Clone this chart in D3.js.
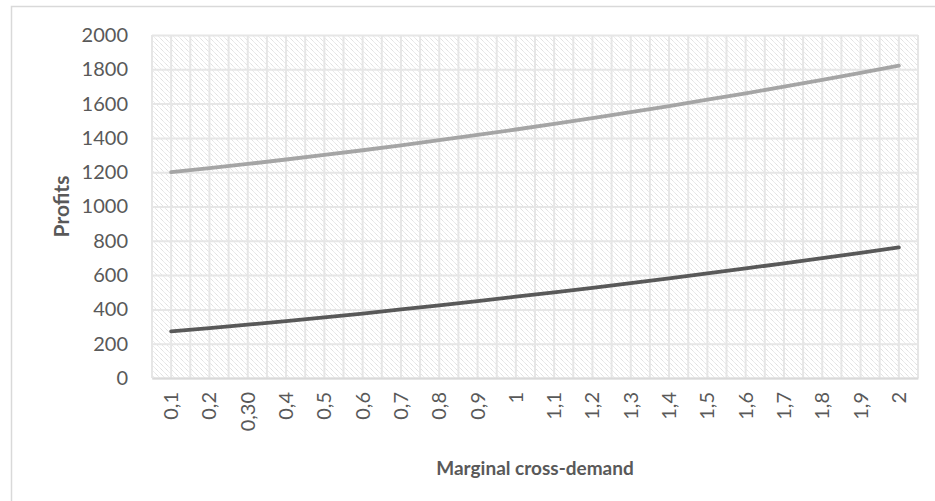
<!DOCTYPE html>
<html>
<head>
<meta charset="utf-8">
<script src="https://cdn.jsdelivr.net/npm/d3@7"></script>
<style>
  body { margin: 0; background: #fff; }
  text { font-family: Lato, "Open Sans", sans-serif; fill: #595959; }
</style>
</head>
<body>
<script>
// categories as printed on the x axis
var categories = ["0,1", "0,2", "0,30", "0,4", "0,5", "0,6", "0,7", "0,8", "0,9", "1",
                  "1,1", "1,2", "1,3", "1,4", "1,5", "1,6", "1,7", "1,8", "1,9", "2"];
// upper (light) series
var upperValues = [1200, 1224, 1248, 1274, 1301, 1328, 1357, 1387, 1417, 1449,
                   1482, 1515, 1550, 1586, 1623, 1660, 1699, 1739, 1779, 1821];
// lower (dark) series
var lowerValues = [272, 291, 311, 332, 354, 376, 400, 424, 448, 474,
                   499, 526, 553, 581, 610, 639, 669, 699, 730, 762];
var yTicks = [0, 200, 400, 600, 800, 1000, 1200, 1400, 1600, 1800, 2000];

var W = 935, H = 501;
var margin = {top: 35, right: 17, bottom: 123, left: 152},
    width = W - margin.left - margin.right,
    height = H - margin.top - margin.bottom;

var svg = d3.select("body").append("svg")
    .attr("width", W)
    .attr("height", H);

// chart area border (only top and left are in frame)
svg.append("rect")
    .attr("x", 11.5).attr("y", 6.5)
    .attr("width", 1000).attr("height", 600)
    .attr("fill", "#fff")
    .attr("stroke", "#d9d9d9")
    .attr("stroke-width", 1.5);

// hatch pattern for plot area
var defs = svg.append("defs");
var pat = defs.append("pattern")
    .attr("id", "hatch")
    .attr("patternUnits", "userSpaceOnUse")
    .attr("width", 5).attr("height", 5);
pat.append("rect").attr("width", 5).attr("height", 5).attr("fill", "#fff");
pat.append("path")
    .attr("d", "M-1,-1 L6,6 M-1,4 L1,6 M4,-1 L6,1")
    .attr("stroke", "#dadada")
    .attr("stroke-width", 1)
    .attr("stroke-dasharray", "1.2,0.6");

var g = svg.append("g")
    .attr("transform", "translate(" + margin.left + "," + margin.top + ")");

var x = d3.scaleBand()
    .domain(categories)
    .range([0, width]);

var y = d3.scaleLinear()
    .domain([0, 2000])
    .range([height, 0]);

g.append("rect")
    .attr("width", width)
    .attr("height", height)
    .attr("fill", "url(#hatch)");

// vertical gridlines at category edges and centres
var vLines = [];
categories.forEach(function(c) {
    vLines.push(x(c));
    vLines.push(x(c) + x.bandwidth() / 2);
});
vLines.push(width);

g.selectAll(".vgrid")
    .data(vLines)
    .enter().append("line")
        .attr("class", "vgrid")
        .attr("x1", function(d) { return d; })
        .attr("x2", function(d) { return d; })
        .attr("y1", 0)
        .attr("y2", height)
        .attr("stroke", "#e6e6e6")
        .attr("stroke-width", 2);

// horizontal gridlines
g.append("g")
    .call(d3.axisLeft(y).tickValues(yTicks).tickSize(-width).tickFormat(""))
    .call(function(a) {
        a.select(".domain").remove();
        a.selectAll("line").attr("stroke", "#e6e6e6").attr("stroke-width", 2);
    });

// y axis labels
g.append("g")
    .call(d3.axisLeft(y).tickValues(yTicks).tickSize(0).tickPadding(24).tickFormat(d3.format("d")))
    .call(function(a) {
        a.select(".domain").remove();
        a.selectAll("text")
            .style("font-size", "20px")
            .attr("fill", "#595959");
    });

// x axis
var xAxis = g.append("g")
    .attr("transform", "translate(0," + height + ")")
    .call(d3.axisBottom(x).tickSize(0).tickPadding(0));
xAxis.select(".domain").attr("stroke", "#d9d9d9").attr("stroke-width", 2);
xAxis.selectAll("text")
    .style("font-size", "20px")
    .attr("fill", "#595959")
    .attr("text-anchor", "end")
    .attr("dy", "0.35em")
    .attr("transform", "translate(0,14) rotate(-90)");

var line = d3.line()
    .x(function(d, i) { return x(categories[i]) + x.bandwidth() / 2; })
    .y(function(d) { return y(d); });

g.append("path")
    .datum(upperValues)
    .attr("d", line)
    .attr("fill", "none")
    .attr("stroke", "#a5a5a5")
    .attr("stroke-width", 3.8)
    .attr("stroke-linecap", "round");

g.append("path")
    .datum(lowerValues)
    .attr("d", line)
    .attr("fill", "none")
    .attr("stroke", "#595959")
    .attr("stroke-width", 3.8)
    .attr("stroke-linecap", "round");

// axis titles
svg.append("text")
    .attr("transform", "translate(69," + (margin.top + height / 2) + ") rotate(-90)")
    .attr("text-anchor", "middle")
    .style("font-size", "21px")
    .style("font-weight", "bold")
    .text("Profits");

svg.append("text")
    .attr("x", margin.left + width / 2)
    .attr("y", 475)
    .attr("text-anchor", "middle")
    .style("font-size", "19px")
    .style("font-weight", "bold")
    .text("Marginal cross-demand");
</script>
</body>
</html>
